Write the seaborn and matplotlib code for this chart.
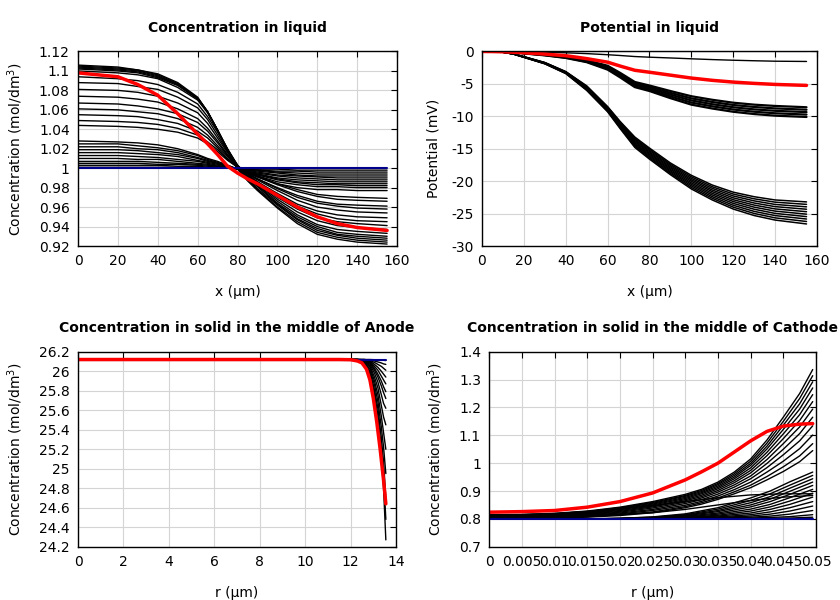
import numpy as np
import pandas as pd
import matplotlib
matplotlib.use("Agg")
import matplotlib.pyplot as plt
import seaborn as sns
from matplotlib.ticker import FuncFormatter

# ---------------- Panel 1: concentration in liquid ----------------
liq_x = [0, 20, 30, 40, 50, 60, 65, 70, 75, 80, 85, 90, 100, 110, 120, 130, 140, 155]
liq_conc_late = [
    [1.106, 1.104, 1.101, 1.097, 1.088, 1.073, 1.058, 1.039, 1.018, 0.999, 0.987, 0.977, 0.959, 0.943, 0.932, 0.927, 0.924, 0.922],
    [1.105, 1.103, 1.101, 1.096, 1.087, 1.072, 1.058, 1.039, 1.018, 1.000, 0.988, 0.978, 0.960, 0.945, 0.934, 0.929, 0.926, 0.924],
    [1.104, 1.102, 1.100, 1.095, 1.086, 1.072, 1.058, 1.039, 1.019, 1.001, 0.989, 0.979, 0.962, 0.947, 0.936, 0.931, 0.928, 0.926],
    [1.103, 1.101, 1.099, 1.094, 1.086, 1.072, 1.058, 1.039, 1.019, 1.002, 0.990, 0.981, 0.963, 0.948, 0.938, 0.932, 0.930, 0.928],
    [1.102, 1.100, 1.098, 1.093, 1.085, 1.071, 1.057, 1.039, 1.019, 1.002, 0.991, 0.982, 0.964, 0.950, 0.940, 0.934, 0.932, 0.930],
    [1.100, 1.098, 1.096, 1.092, 1.083, 1.070, 1.057, 1.039, 1.020, 1.003, 0.992, 0.983, 0.966, 0.952, 0.942, 0.937, 0.935, 0.933],
    [1.094, 1.092, 1.090, 1.086, 1.078, 1.066, 1.053, 1.037, 1.019, 1.003, 0.993, 0.984, 0.968, 0.955, 0.946, 0.941, 0.939, 0.937],
    [1.088, 1.087, 1.084, 1.081, 1.073, 1.062, 1.050, 1.034, 1.017, 1.003, 0.993, 0.985, 0.970, 0.958, 0.949, 0.945, 0.943, 0.941],
    [1.081, 1.080, 1.078, 1.074, 1.067, 1.057, 1.046, 1.031, 1.016, 1.002, 0.993, 0.986, 0.972, 0.961, 0.953, 0.948, 0.946, 0.945],
    [1.074, 1.073, 1.071, 1.068, 1.061, 1.051, 1.041, 1.028, 1.014, 1.001, 0.993, 0.986, 0.974, 0.963, 0.956, 0.952, 0.950, 0.949],
    [1.067, 1.066, 1.064, 1.061, 1.056, 1.047, 1.038, 1.026, 1.013, 1.001, 0.994, 0.988, 0.977, 0.967, 0.960, 0.957, 0.955, 0.954],
    [1.061, 1.060, 1.058, 1.056, 1.051, 1.042, 1.034, 1.023, 1.012, 1.001, 0.995, 0.989, 0.979, 0.970, 0.964, 0.961, 0.959, 0.958],
    [1.055, 1.054, 1.053, 1.050, 1.046, 1.038, 1.031, 1.021, 1.010, 1.001, 0.994, 0.989, 0.980, 0.972, 0.966, 0.963, 0.962, 0.961],
    [1.049, 1.048, 1.047, 1.045, 1.041, 1.034, 1.027, 1.019, 1.009, 1.001, 0.996, 0.991, 0.983, 0.976, 0.971, 0.968, 0.967, 0.966],
    [1.044, 1.043, 1.042, 1.040, 1.037, 1.031, 1.025, 1.017, 1.008, 1.001, 0.996, 0.992, 0.984, 0.978, 0.973, 0.971, 0.970, 0.969],
]
liq_conc_early = [
    [1.028, 1.027, 1.026, 1.024, 1.020, 1.014, 1.010, 1.007, 1.003, 0.999, 0.995, 0.991, 0.984, 0.980, 0.978, 0.978, 0.977, 0.977],
    [1.025, 1.025, 1.023, 1.021, 1.018, 1.013, 1.009, 1.006, 1.003, 0.999, 0.996, 0.992, 0.986, 0.983, 0.981, 0.981, 0.980, 0.980],
    [1.022, 1.022, 1.020, 1.019, 1.016, 1.011, 1.008, 1.005, 1.002, 0.999, 0.996, 0.993, 0.988, 0.985, 0.983, 0.983, 0.982, 0.982],
    [1.019, 1.019, 1.018, 1.016, 1.014, 1.010, 1.007, 1.005, 1.002, 0.999, 0.996, 0.994, 0.989, 0.986, 0.985, 0.984, 0.984, 0.984],
    [1.016, 1.016, 1.015, 1.014, 1.012, 1.008, 1.006, 1.004, 1.002, 0.999, 0.997, 0.994, 0.990, 0.988, 0.987, 0.986, 0.986, 0.986],
    [1.013, 1.013, 1.012, 1.011, 1.009, 1.007, 1.005, 1.003, 1.001, 0.999, 0.997, 0.995, 0.992, 0.990, 0.989, 0.988, 0.988, 0.988],
    [1.010, 1.010, 1.009, 1.009, 1.007, 1.005, 1.004, 1.002, 1.001, 1.000, 0.998, 0.996, 0.993, 0.992, 0.991, 0.990, 0.990, 0.990],
    [1.007, 1.007, 1.007, 1.006, 1.005, 1.004, 1.003, 1.002, 1.001, 1.000, 0.998, 0.997, 0.995, 0.993, 0.992, 0.992, 0.992, 0.992],
    [1.005, 1.005, 1.005, 1.004, 1.004, 1.003, 1.002, 1.001, 1.001, 1.000, 0.999, 0.998, 0.996, 0.995, 0.994, 0.994, 0.994, 0.994],
    [1.003, 1.003, 1.003, 1.003, 1.002, 1.002, 1.001, 1.001, 1.000, 1.000, 0.999, 0.998, 0.997, 0.997, 0.996, 0.996, 0.996, 0.996],
    [1.001, 1.001, 1.001, 1.001, 1.001, 1.001, 1.000, 1.000, 1.000, 1.000, 1.000, 0.999, 0.999, 0.998, 0.998, 0.998, 0.998, 0.998],
]
liq_conc_red = [1.098, 1.094, 1.086, 1.075, 1.056, 1.035, 1.025, 1.014, 1.002, 0.995, 0.989, 0.984, 0.972, 0.960, 0.950, 0.943, 0.939, 0.936]
liq_conc_blue = [1.0, 1.0, 1.0, 1.0, 1.0, 1.0, 1.0, 1.0, 1.0, 1.0, 1.0, 1.0, 1.0, 1.0, 1.0, 1.0, 1.0, 1.0]

# ---------------- Panel 2: potential in liquid ----------------
pot_x = [0, 5, 10, 15, 20, 30, 40, 50, 60, 66, 73, 80, 90, 100, 110, 120, 130, 140, 155]
pot_thin = [
    [0, 0, -0.01, -0.03, -0.05, -0.10, -0.20, -0.33, -0.50, -0.62, -0.78, -0.88, -1.00, -1.13, -1.25, -1.35, -1.43, -1.50, -1.54],
]
pot_relax = [
    [0, -0.005, -0.030, -0.100, -0.200, -0.45, -0.80, -1.35, -2.20, -3.30, -4.70, -5.25, -6.10, -6.90, -7.45, -7.90, -8.20, -8.40, -8.60],
    [0, -0.005, -0.033, -0.105, -0.225, -0.49, -0.85, -1.43, -2.35, -3.48, -4.90, -5.46, -6.38, -7.23, -7.79, -8.25, -8.56, -8.78, -8.98],
    [0, -0.005, -0.035, -0.110, -0.250, -0.53, -0.90, -1.50, -2.50, -3.65, -5.10, -5.68, -6.65, -7.55, -8.13, -8.60, -8.93, -9.15, -9.35],
    [0, -0.005, -0.038, -0.115, -0.275, -0.56, -0.95, -1.58, -2.65, -3.83, -5.30, -5.89, -6.93, -7.88, -8.46, -8.95, -9.29, -9.53, -9.73],
    [0, -0.005, -0.040, -0.120, -0.300, -0.60, -1.00, -1.65, -2.80, -4.00, -5.50, -6.10, -7.20, -8.20, -8.80, -9.30, -9.65, -9.90, -10.10],
]
pot_load = [
    [0, -0.02, -0.100, -0.350, -0.80, -1.70, -3.10, -5.30, -8.50, -10.80, -13.20, -14.90, -17.20, -19.10, -20.60, -21.70, -22.40, -22.90, -23.20],
    [0, -0.02, -0.102, -0.356, -0.81, -1.72, -3.13, -5.38, -8.59, -10.92, -13.38, -15.09, -17.40, -19.33, -20.86, -21.99, -22.72, -23.24, -23.58],
    [0, -0.02, -0.104, -0.361, -0.82, -1.74, -3.17, -5.46, -8.68, -11.04, -13.56, -15.28, -17.60, -19.57, -21.11, -22.28, -23.04, -23.59, -23.96],
    [0, -0.02, -0.107, -0.367, -0.83, -1.77, -3.20, -5.53, -8.77, -11.17, -13.73, -15.47, -17.80, -19.80, -21.37, -22.57, -23.37, -23.93, -24.33],
    [0, -0.02, -0.109, -0.372, -0.84, -1.79, -3.23, -5.61, -8.86, -11.29, -13.91, -15.66, -18.00, -20.03, -21.62, -22.86, -23.69, -24.28, -24.71],
    [0, -0.02, -0.111, -0.378, -0.86, -1.81, -3.27, -5.69, -8.94, -11.41, -14.09, -15.84, -18.20, -20.27, -21.88, -23.14, -24.01, -24.62, -25.09],
    [0, -0.02, -0.113, -0.383, -0.87, -1.83, -3.30, -5.77, -9.03, -11.53, -14.27, -16.03, -18.40, -20.50, -22.13, -23.43, -24.33, -24.97, -25.47],
    [0, -0.02, -0.116, -0.389, -0.88, -1.86, -3.33, -5.84, -9.12, -11.66, -14.44, -16.22, -18.60, -20.73, -22.39, -23.72, -24.66, -25.31, -25.84],
    [0, -0.02, -0.118, -0.394, -0.89, -1.88, -3.37, -5.92, -9.21, -11.78, -14.62, -16.41, -18.80, -20.97, -22.64, -24.01, -24.98, -25.66, -26.22],
    [0, -0.02, -0.120, -0.400, -0.90, -1.90, -3.40, -6.00, -9.30, -11.90, -14.80, -16.60, -19.00, -21.20, -22.90, -24.30, -25.30, -26.00, -26.60],
]
pot_red = [0, -0.01, -0.05, -0.11, -0.20, -0.40, -0.65, -1.10, -1.65, -2.25, -2.90, -3.20, -3.65, -4.10, -4.45, -4.72, -4.92, -5.08, -5.23]
pot_blue = [0, 0, 0, 0, 0, 0, 0, 0, 0, 0, 0, 0, 0, 0, 0, 0, 0, 0, 0]

# ---------------- Panel 3: solid, middle of anode ----------------
an_r = [0, 12.0, 12.3, 12.6, 12.85, 13.05, 13.2, 13.35, 13.45, 13.55]
an_conc = [
    [26.12, 26.12, 26.12, 26.12, 26.12, 26.118, 26.116, 26.114, 26.112, 26.11],
    [26.12, 26.12, 26.12, 26.12, 26.115, 26.105, 26.095, 26.085, 26.075, 26.07],
    [26.12, 26.12, 26.12, 26.12, 26.11, 26.09, 26.07, 26.05, 26.03, 26.01],
    [26.12, 26.12, 26.12, 26.118, 26.105, 26.07, 26.04, 26.00, 25.97, 25.94],
    [26.12, 26.12, 26.12, 26.116, 26.10, 26.05, 26.01, 25.95, 25.91, 25.87],
    [26.12, 26.12, 26.12, 26.114, 26.09, 26.03, 25.97, 25.90, 25.84, 25.79],
    [26.12, 26.12, 26.12, 26.112, 26.08, 26.01, 25.94, 25.85, 25.78, 25.72],
    [26.12, 26.12, 26.12, 26.11, 26.07, 25.98, 25.89, 25.76, 25.67, 25.62],
    [26.12, 26.12, 26.12, 26.105, 26.055, 25.94, 25.83, 25.65, 25.53, 25.45],
    [26.12, 26.12, 26.118, 26.10, 26.04, 25.90, 25.76, 25.54, 25.37, 25.20],
    [26.12, 26.12, 26.116, 26.095, 26.02, 25.86, 25.69, 25.43, 25.22, 24.95],
    [26.12, 26.12, 26.114, 26.09, 26.00, 25.81, 25.62, 25.32, 25.07, 24.70],
    [26.12, 26.12, 26.112, 26.085, 25.98, 25.77, 25.55, 25.22, 24.93, 24.48],
    [26.12, 26.12, 26.11, 26.08, 25.96, 25.72, 25.48, 25.12, 24.80, 24.27],
]
an_red_r = [0, 11.5, 12.0, 12.3, 12.5, 12.7, 12.85, 13.0, 13.15, 13.3, 13.45, 13.55]
an_red = [26.12, 26.12, 26.118, 26.105, 26.085, 26.02, 25.91, 25.72, 25.48, 25.20, 24.88, 24.64]
an_blue_r = [0, 13.55]
an_blue = [26.12, 26.12]

# ---------------- Panel 4: solid, middle of cathode ----------------
ca_r_fan = [0, 0.005, 0.010, 0.015, 0.020, 0.025, 0.030, 0.0325, 0.035, 0.0375, 0.040, 0.0425, 0.045, 0.0475, 0.0495]
ca_conc_fan = [
    [0.815, 0.816, 0.820, 0.828, 0.842, 0.862, 0.888, 0.906, 0.932, 0.968, 1.015, 1.083, 1.165, 1.250, 1.336],
    [0.814, 0.815, 0.819, 0.826, 0.840, 0.859, 0.884, 0.902, 0.927, 0.962, 1.007, 1.072, 1.150, 1.232, 1.314],
    [0.813, 0.814, 0.817, 0.825, 0.838, 0.856, 0.881, 0.898, 0.923, 0.956, 0.999, 1.061, 1.136, 1.213, 1.292],
    [0.812, 0.813, 0.816, 0.823, 0.835, 0.853, 0.877, 0.894, 0.918, 0.950, 0.992, 1.051, 1.121, 1.194, 1.270],
    [0.810, 0.811, 0.815, 0.821, 0.833, 0.850, 0.873, 0.890, 0.913, 0.944, 0.983, 1.039, 1.105, 1.174, 1.246],
    [0.809, 0.810, 0.813, 0.819, 0.830, 0.846, 0.869, 0.885, 0.908, 0.937, 0.974, 1.027, 1.088, 1.153, 1.221],
    [0.808, 0.809, 0.812, 0.817, 0.827, 0.843, 0.865, 0.880, 0.902, 0.930, 0.965, 1.013, 1.070, 1.130, 1.194],
    [0.806, 0.807, 0.810, 0.815, 0.824, 0.839, 0.860, 0.875, 0.896, 0.922, 0.954, 0.999, 1.050, 1.106, 1.165],
    [0.805, 0.806, 0.808, 0.813, 0.821, 0.834, 0.855, 0.869, 0.889, 0.914, 0.944, 0.984, 1.030, 1.080, 1.134],
    [0.803, 0.804, 0.806, 0.810, 0.818, 0.830, 0.849, 0.863, 0.882, 0.905, 0.932, 0.968, 1.007, 1.052, 1.101],
    [0.801, 0.802, 0.805, 0.808, 0.815, 0.825, 0.844, 0.858, 0.875, 0.897, 0.921, 0.952, 0.987, 1.026, 1.070],
    [0.800, 0.801, 0.803, 0.806, 0.812, 0.822, 0.840, 0.853, 0.870, 0.890, 0.912, 0.940, 0.970, 1.005, 1.045],
]
ca_r_early = [0, 0.015, 0.020, 0.025, 0.030, 0.035, 0.040, 0.043, 0.046, 0.0495]
ca_conc_early = [
    [0.800, 0.800, 0.802, 0.807, 0.818, 0.840, 0.875, 0.900, 0.933, 0.968],
    [0.800, 0.800, 0.802, 0.806, 0.815, 0.835, 0.866, 0.890, 0.921, 0.956],
    [0.800, 0.800, 0.801, 0.805, 0.813, 0.830, 0.858, 0.880, 0.910, 0.944],
    [0.800, 0.800, 0.801, 0.804, 0.811, 0.826, 0.850, 0.871, 0.899, 0.932],
    [0.800, 0.800, 0.801, 0.803, 0.809, 0.821, 0.843, 0.862, 0.888, 0.920],
    [0.800, 0.800, 0.800, 0.802, 0.807, 0.817, 0.835, 0.852, 0.876, 0.906],
    [0.800, 0.800, 0.800, 0.802, 0.805, 0.813, 0.828, 0.843, 0.864, 0.892],
    [0.800, 0.800, 0.800, 0.801, 0.804, 0.810, 0.821, 0.834, 0.852, 0.878],
    [0.800, 0.800, 0.800, 0.801, 0.803, 0.807, 0.815, 0.825, 0.840, 0.862],
    [0.800, 0.800, 0.800, 0.800, 0.802, 0.805, 0.810, 0.817, 0.828, 0.846],
    [0.800, 0.800, 0.800, 0.800, 0.801, 0.803, 0.806, 0.810, 0.817, 0.830],
    [0.800, 0.800, 0.800, 0.800, 0.800, 0.801, 0.803, 0.805, 0.808, 0.815],
    [0.800, 0.800, 0.800, 0.800, 0.800, 0.800, 0.801, 0.802, 0.803, 0.806],
]
ca_r_rest = [0, 0.010, 0.020, 0.025, 0.030, 0.035, 0.040, 0.045, 0.0495]
ca_conc_rest = [
    [0.812, 0.818, 0.836, 0.848, 0.862, 0.876, 0.886, 0.890, 0.890],
    [0.806, 0.809, 0.816, 0.822, 0.834, 0.850, 0.866, 0.878, 0.884],
]
ca_red_r = [0, 0.005, 0.010, 0.015, 0.020, 0.025, 0.030, 0.0325, 0.035, 0.0375, 0.040, 0.0425, 0.045, 0.0475, 0.0495]
ca_red = [0.824, 0.826, 0.830, 0.842, 0.862, 0.893, 0.940, 0.969, 1.000, 1.040, 1.080, 1.114, 1.133, 1.140, 1.142]
ca_blue_r = [0, 0.0495]
ca_blue = [0.80, 0.80]

# ---------------- drawing ----------------
sns.set_theme(style="white")
plt.rcParams["font.family"] = ["DejaVu Sans"]
plt.rcParams["font.size"] = 10
for key in ("text.color", "axes.labelcolor", "xtick.color", "ytick.color"):
    plt.rcParams[key] = "black"

BLUE = "#00008b"
RED = "#ff0000"


def family_frame(xs, rows):
    recs = []
    for i, row in enumerate(rows):
        for x, v in zip(xs, row):
            recs.append((x, v, i))
    return pd.DataFrame(recs, columns=["x", "v", "curve"])


def draw(ax, families, red, blue):
    for xs, rows, lw in families:
        sns.lineplot(data=family_frame(xs, rows), x="x", y="v", units="curve",
                     estimator=None, color="black", lw=lw, ax=ax, legend=False)
    sns.lineplot(x=blue[0], y=blue[1], color=BLUE, lw=1.5, ax=ax)
    sns.lineplot(x=red[0], y=red[1], color=RED, lw=2.5, ax=ax)


def style(ax, title, xlabel, ylabel, xlim, xticks, ylim, yticks, ylpad=10):
    ax.set_xlim(*xlim)
    ax.set_ylim(*ylim)
    ax.set_xticks(xticks)
    ax.set_yticks(yticks)
    fmt = FuncFormatter(lambda v, p: "%g" % round(v, 6))
    ax.xaxis.set_major_formatter(fmt)
    ax.yaxis.set_major_formatter(fmt)
    ax.grid(True, color="#d4d4d4", lw=0.8)
    ax.set_axisbelow(True)
    ax.tick_params(direction="in", top=True, right=True, length=4, width=0.8,
                   pad=6, labelsize=10, colors="black")
    for s in ax.spines.values():
        s.set_color("black")
        s.set_linewidth(1.0)
    ax.set_title(title, fontsize=10, fontweight="bold", pad=14, color="black")
    ax.set_xlabel(xlabel, fontsize=10, labelpad=12)
    ax.set_ylabel(ylabel, fontsize=10, labelpad=ylpad)


fig = plt.figure(figsize=(8.4, 6.0), dpi=100)
ax1 = fig.add_axes([0.0929, 0.590, 0.3798, 0.3242])
ax2 = fig.add_axes([0.5738, 0.590, 0.3988, 0.3242])
ax3 = fig.add_axes([0.0929, 0.0888, 0.3786, 0.3250])
ax4 = fig.add_axes([0.5825, 0.0888, 0.3889, 0.3250])

conc_label = "Concentration (mol/dm$^3$)"

draw(ax1, [(liq_x, liq_conc_early, 1.0), (liq_x, liq_conc_late, 1.0)],
     (liq_x, liq_conc_red), (liq_x, liq_conc_blue))
style(ax1, "Concentration in liquid", "x (\u00b5m)", conc_label,
      (0, 160), np.arange(0, 161, 20), (0.92, 1.12), np.arange(0.92, 1.1201, 0.02))

draw(ax2, [(pot_x, pot_thin, 1.0), (pot_x, pot_relax, 1.6), (pot_x, pot_load, 1.1)],
     (pot_x, pot_red), (pot_x, pot_blue))
style(ax2, "Potential in liquid", "x (\u00b5m)", "Potential (mV)",
      (0, 160), np.arange(0, 161, 20), (-30, 0), np.arange(-30, 1, 5), ylpad=8)

draw(ax3, [(an_r, an_conc, 1.0)], (an_red_r, an_red), (an_blue_r, an_blue))
style(ax3, "Concentration in solid in the middle of Anode", "r (\u00b5m)", conc_label,
      (0, 14), np.arange(0, 14.1, 2), (24.2, 26.2), np.arange(24.2, 26.201, 0.2))

draw(ax4, [(ca_r_early, ca_conc_early, 1.0), (ca_r_rest, ca_conc_rest, 1.0),
           (ca_r_fan, ca_conc_fan, 1.0)],
     (ca_red_r, ca_red), (ca_blue_r, ca_blue))
style(ax4, "Concentration in solid in the middle of Cathode", "r (\u00b5m)", conc_label,
      (0, 0.05), np.arange(0, 0.05001, 0.005), (0.7, 1.4), np.arange(0.7, 1.4001, 0.1))

fig.savefig("out.png", dpi=100)
